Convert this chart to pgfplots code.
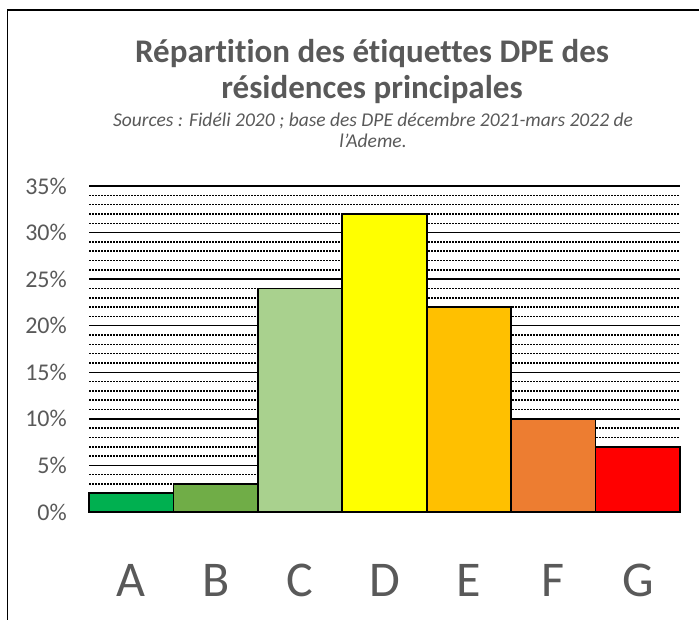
\documentclass[border=0pt]{standalone}
\usepackage{pgfplots}
\pgfplotsset{compat=1.18}
\usepackage{fontspec}
\setmainfont[Ligatures={NoCommon}]{Carlito}
\definecolor{txtgrey}{HTML}{595959}
\definecolor{cA}{HTML}{00B050}
\definecolor{cB}{HTML}{70AD47}
\definecolor{cC}{HTML}{A9D18E}
\definecolor{cD}{HTML}{FFFF00}
\definecolor{cE}{HTML}{FFC000}
\definecolor{cF}{HTML}{ED7D31}
\definecolor{cG}{HTML}{FF0000}
\begin{document}
\begin{tikzpicture}
\path[use as bounding box] (0,0) rectangle (699bp,620bp);
\draw[black, line width=1.8bp] (7.5bp,0) -- (7.5bp,610bp) -- (699bp,610bp);
\node[anchor=base, text=txtgrey, font=\fontsize{33bp}{36bp}\selectfont\bfseries] at (372bp,557bp) {Répartition des étiquettes DPE des};
\node[anchor=base, text=txtgrey, font=\fontsize{33bp}{36bp}\selectfont\bfseries] at (372bp,521bp) {résidences principales};
\node[anchor=base, text=txtgrey, font=\fontsize{19.5bp}{21bp}\selectfont\itshape] at (373bp,493bp) {Sources : Fidéli 2020 ; base des DPE décembre 2021-mars 2022 de};
\node[anchor=base, text=txtgrey, font=\fontsize{19.5bp}{21bp}\selectfont\itshape] at (373bp,472bp) {l’Ademe.};
\begin{axis}[
  at={(89bp,108bp)}, anchor=south west,
  scale only axis, width=591bp, height=326bp,
  xmin=-0.5, xmax=6.5, ymin=0, ymax=35,
  ybar, bar width=1,
  axis x line*=bottom, axis y line*=left,
  x axis line style={draw=gray!35, line width=1.5bp, -},
  y axis line style={draw=none},
  xtick={0,...,6}, xticklabels={A,B,C,D,E,F,G},
  ytick={5,10,...,35}, minor ytick={1,2,3,4,6,7,8,9,11,12,13,14,16,17,18,19,21,22,23,24,26,27,28,29,31,32,33,34},
  extra y ticks={0}, extra y tick style={grid=none},
  major tick length=0, minor tick length=0,
  ymajorgrids, yminorgrids,
  major grid style={black, line width=1.5bp},
  minor grid style={black, line width=1.5bp, dash pattern=on 1.6bp off 1.4bp},
  /pgf/number format/assume math mode=true,
  yticklabel={\pgfmathprintnumber{\tick}\%},
  yticklabel style={font=\fontsize{24bp}{28bp}\selectfont, text=txtgrey, anchor=east, inner sep=0pt, xshift=-22bp},
  xticklabel style={font=\fontsize{50bp}{56bp}\selectfont, text=txtgrey, anchor=base, inner sep=0pt, yshift=-84bp},
  every axis plot/.append style={draw=black, line width=1.8bp, bar shift=0pt},
  clip=false,
]
\addplot[fill=cA] coordinates {(0,2)};
\addplot[fill=cB] coordinates {(1,3)};
\addplot[fill=cC] coordinates {(2,24)};
\addplot[fill=cD] coordinates {(3,32)};
\addplot[fill=cE] coordinates {(4,22)};
\addplot[fill=cF] coordinates {(5,10)};
\addplot[fill=cG] coordinates {(6,7)};
\end{axis}
\end{tikzpicture}
\end{document}
